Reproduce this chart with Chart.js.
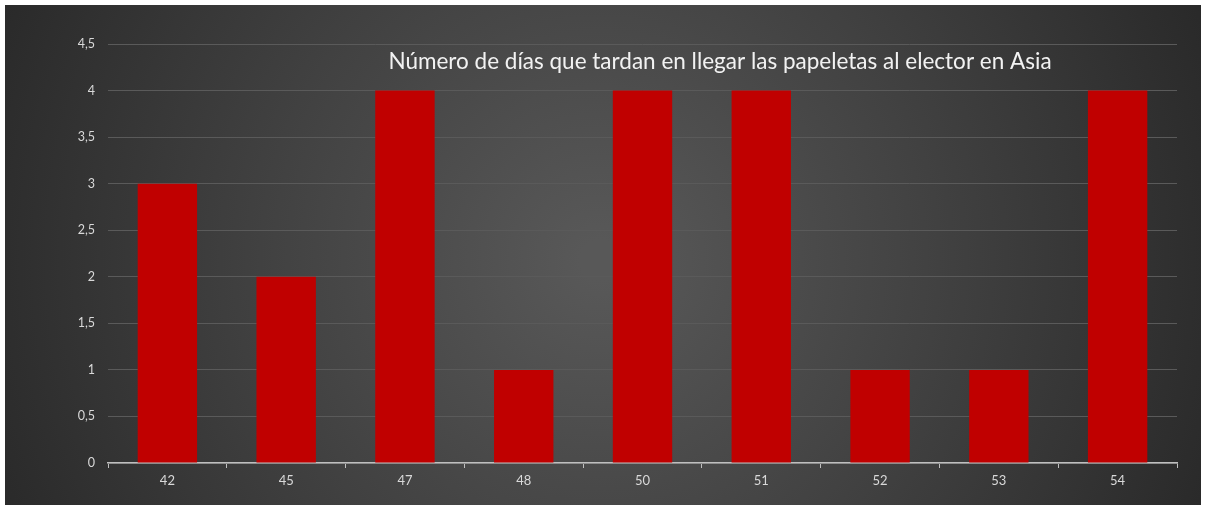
<!DOCTYPE html>
<html>
<head>
<meta charset="utf-8">
<script src="https://cdn.jsdelivr.net/npm/chart.js@4"></script>
<style>
  html, body { margin: 0; padding: 0; background: #ffffff; }
  #wrap { width: 1208px; height: 506px; }
</style>
</head>
<body>
<div id="wrap"><canvas id="chart" width="1208" height="506"></canvas></div>
<script>
const categories = ["42", "45", "47", "48", "50", "51", "52", "53", "54"];
const dayCounts = [3, 2, 4, 1, 4, 4, 1, 1, 4];
const yTicks = [0, 0.5, 1, 1.5, 2, 2.5, 3, 3.5, 4, 4.5];
const titleText = "Número de días que tardan en llegar las papeletas al elector en Asia";

const font = "Lato, 'Open Sans', sans-serif";

// dark panel with a soft radial light in the middle
const backdrop = {
    id: "backdrop",
    beforeDraw(chart) {
        const ctx = chart.ctx;
        ctx.save();
        ctx.fillStyle = "#ffffff";
        ctx.fillRect(0, 0, chart.width, chart.height);
        const g = ctx.createRadialGradient(600, 260, 20, 600, 260, 700);
        g.addColorStop(0, "#585858");
        g.addColorStop(0.45, "#424242");
        g.addColorStop(1, "#262626");
        ctx.fillStyle = g;
        ctx.fillRect(5, 5, 1196, 500);
        ctx.restore();
    },
};

// title sits inside the plot, right of centre
const innerTitle = {
    id: "innerTitle",
    afterDatasetsDraw(chart) {
        const ctx = chart.ctx;
        ctx.save();
        ctx.font = "22.5px " + font;
        ctx.fillStyle = "#f2f2f2";
        ctx.textAlign = "center";
        ctx.textBaseline = "middle";
        ctx.fillText(titleText, 720, 62, 668);
        ctx.restore();
    },
};

new Chart(document.getElementById("chart").getContext("2d"), {
    type: "bar",
    data: {
        labels: categories,
        datasets: [{
            data: dayCounts,
            backgroundColor: "#c00000",
            borderWidth: 0,
            barPercentage: 0.5,
            categoryPercentage: 1,
        }],
    },
    options: {
        responsive: false,
        animation: false,
        layout: { padding: { left: 5, right: 31, top: 44, bottom: 0 } },
        plugins: {
            legend: { display: false },
            tooltip: { enabled: false },
        },
        scales: {
            x: {
                afterFit: (s) => { s.height = 43; },
                grid: {
                    offset: true,
                    drawOnChartArea: false,
                    drawTicks: true,
                    tickLength: 5,
                    color: "#bfbfbf",
                },
                border: { color: "#bfbfbf", width: 1.5 },
                ticks: {
                    color: "#d9d9d9",
                    padding: 5,
                    font: { family: font, size: 13 },
                },
            },
            y: {
                min: 0,
                max: 4.5,
                afterFit: (s) => { s.width = 103; },
                afterBuildTicks: (s) => { s.ticks = yTicks.map((v) => ({ value: v })); },
                grid: { color: "#5a5a5a", lineWidth: 1, drawTicks: false },
                border: { display: false },
                ticks: {
                    color: "#d9d9d9",
                    padding: 13,
                    font: { family: font, size: 12.5 },
                    callback: (v) => String(v).replace(".", ","),
                },
            },
        },
    },
    plugins: [backdrop, innerTitle],
});
</script>
</body>
</html>
